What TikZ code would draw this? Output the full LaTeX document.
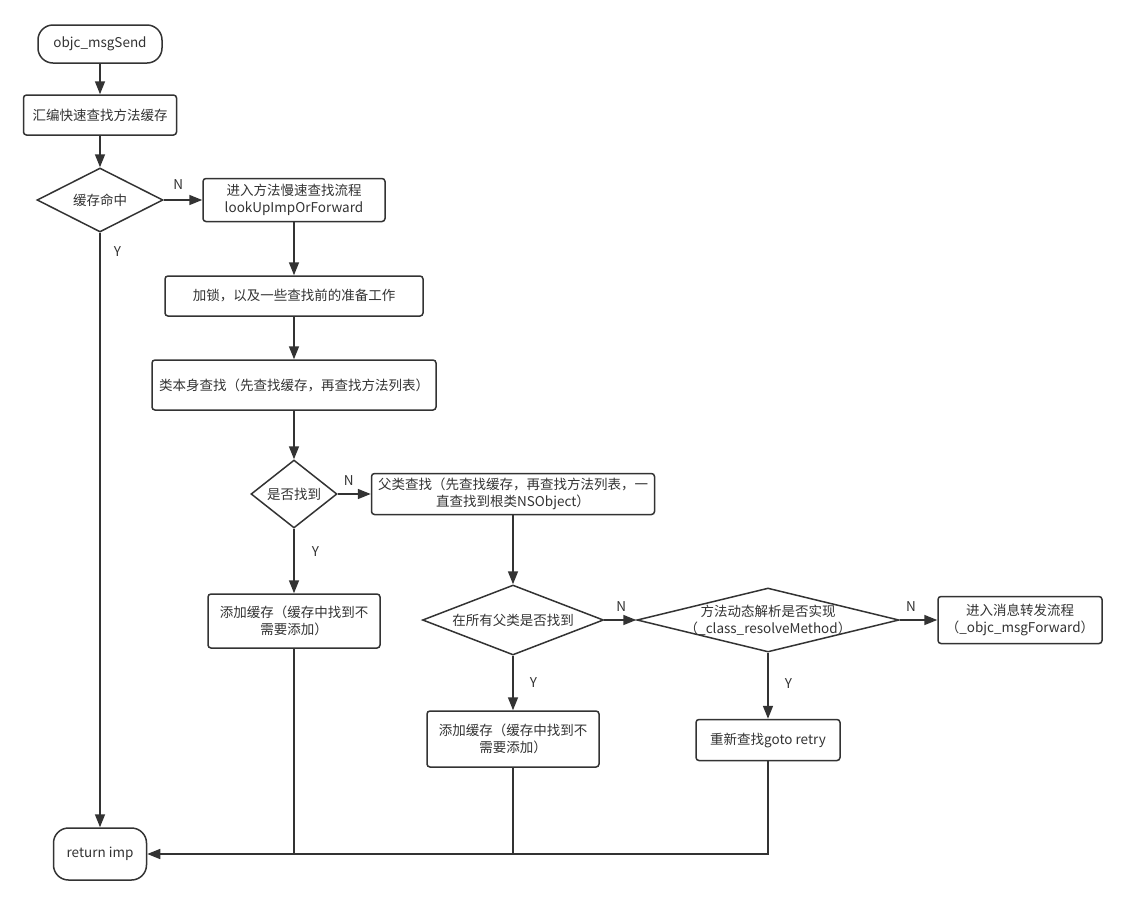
\documentclass[tikz,border=0pt]{standalone}
\usepackage{fontspec}
\newfontfamily\cjk{Noto Sans CJK SC}
\usetikzlibrary{shapes.geometric,arrows.meta}
\definecolor{ink}{HTML}{333333}

\begin{document}
\begin{tikzpicture}[
			x=1pt, y=-1pt,
			every node/.style={font=\cjk\fontsize{13.5}{17.5}\selectfont, text=ink},
			box/.style={draw=ink, line width=1.5pt, rounded corners=3pt, fill=white, align=center, inner sep=2pt},
			term/.style={draw=ink, line width=1.5pt, rounded corners=15pt, fill=white, align=center},
			decision/.style={draw=ink, line width=1.5pt, diamond, fill=white, inner sep=0pt},
			flow/.style={draw=ink, line width=1.6pt, -{Triangle[length=13pt,width=10pt]}},
			mergeline/.style={draw=ink, line width=1.6pt},
			thinmerge/.style={draw=ink, line width=1.2pt},
			lbl/.style={inner sep=0pt}
		]

		\useasboundingbox (0,0) rectangle (1127,903);

		% Fast path
		\node[term, minimum width=124, minimum height=38] (start) at (100,44) {objc\_msgSend};
		\node[box, minimum width=153, minimum height=40] (asm) at (100,115) {汇编快速查找方法缓存};
		\node[decision, minimum width=126, minimum height=64, label=center:缓存命中] (hit) at (100,200) {};

		% Slow lookup column
		\node[box, minimum width=182, minimum height=43] (slow) at (294,200) {进入方法慢速查找流程\\lookUpImpOrForward};
		\node[box, minimum width=258, minimum height=40] (lock) at (294,296) {加锁，以及一些查找前的准备工作};
		\node[box, minimum width=284, minimum height=50] (own) at (294,385) {类本身查找（先查找缓存，再查找方法列表）};
		\node[decision, minimum width=86, minimum height=68, label=center:是否找到] (found) at (294,494) {};
		\node[box, minimum width=172, minimum height=54] (addA) at (294,621) {添加缓存（缓存中找到不\\需要添加）};

		% Superclass column
		\node[box, minimum width=283, minimum height=41] (parent) at (513,494) {父类查找（先查找缓存，再查找方法列表，一\\直查找到根类NSObject）};
		\node[decision, minimum width=181, minimum height=70, label=center:在所有父类是否找到] (allsuper) at (513,620) {};
		\node[box, minimum width=172, minimum height=56] (addB) at (513,739) {添加缓存（缓存中找到不\\需要添加）};

		% Resolver and forwarding
		\node[decision, minimum width=262, minimum height=64, label={[align=center]center:方法动态解析是否实现\\（\_class\_resolveMethod）}] (resolve) at (768,620) {};
		\node[box, minimum width=164, minimum height=47] (forward) at (1020,620) {进入消息转发流程\\（\_objc\_msgForward）};
		\node[box, minimum width=144, minimum height=41] (retry) at (768,740) {重新查找goto retry};

		% Result
		\node[term, minimum width=93, minimum height=52] (ret) at (100,854) {return imp};

		% Connectors
		\draw[flow] (start) -- (asm);
		\draw[flow] (asm) -- (hit);
		\draw[flow] (hit) -- node[lbl, pos=0.375, above=10pt] {N} (slow);
		\draw[flow] (hit) -- node[lbl, pos=0.032, right=13pt] {Y} (ret);
		\draw[flow] (slow) -- (lock);
		\draw[flow] (lock) -- (own);
		\draw[flow] (own) -- (found);
		\draw[flow] (found) -- node[lbl, pos=0.33, above=8pt] {N} (parent);
		\draw[flow] (found) -- node[lbl, pos=0.35, right=17pt] {Y} (addA);
		\draw[flow] (parent) -- (allsuper);
		\draw[flow] (allsuper) -- node[lbl, pos=0.53, above=8pt] {N} (resolve);
		\draw[flow] (resolve) -- node[lbl, pos=0.3, above=8pt] {N} (forward);
		\draw[flow] (allsuper) -- node[lbl, pos=0.5, right=16pt] {Y} (addB);
		\draw[flow] (resolve) -- node[lbl, pos=0.46, right=16pt] {Y} (retry);
		\draw[flow] (retry.south) |- (ret.east);
		\draw[thinmerge] (addA) -- (addA |- ret);
		\draw[mergeline] (addB) -- (addB |- ret);

	\end{tikzpicture}
\end{document}
